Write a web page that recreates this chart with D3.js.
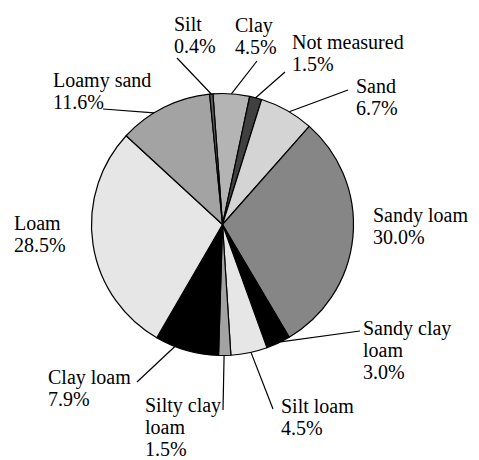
<!DOCTYPE html>
<meta charset="utf-8">
<style>
  body { margin: 0; background: #fff; }
  text { font-family: "Liberation Serif", "Times New Roman", serif; font-size: 20px; fill: #000; }
</style>
<body>
<script src="https://cdn.jsdelivr.net/npm/d3@7"></script>
<script>

// soil texture classes, clockwise from the top
var categories = ["Clay", "Not measured", "Sand", "Sandy loam", "Sandy clay loam", "Silt loam",
                  "Silty clay loam", "Clay loam", "Loam", "Loamy sand", "Silt"];
var values = [4.5, 1.5, 6.7, 30.0, 3.0, 4.5, 1.5, 7.9, 28.5, 11.6, 0.4];
var labelLines = [["Clay"], ["Not measured"], ["Sand"], ["Sandy loam"], ["Sandy clay", "loam"], ["Silt loam"],
                  ["Silty clay", "loam"], ["Clay loam"], ["Loam"], ["Loamy sand"], ["Silt"]];
var fills = ["#b4b4b4", "#404040", "#d4d4d4", "#868686", "#000000", "#e6e6e6",
             "#a3a3a3", "#000000", "#e6e6e6", "#a3a3a3", "#5e5e5e"];

// label placement: text x / first baseline, leader end (null = no leader), where on the slice the leader hits
var labelPos = [
  {x: 235, y: 32,  lx: 257, ly: 61,  at: 0.5},
  {x: 292, y: 49,  lx: 285, ly: 72,  at: 0.5},
  {x: 356, y: 93,  lx: 348, ly: 90,  at: 0.55},
  {x: 373, y: 222, lx: null},
  {x: 363, y: 335, lx: 360, ly: 331, at: 0.4},
  {x: 281, y: 413, lx: 273, ly: 409, at: 0.45},
  {x: 145, y: 412, lx: 223, ly: 410, at: 0.55},
  {x: 48,  y: 384, lx: 137, ly: 382, at: 0.69},
  {x: 14,  y: 230, lx: null},
  {x: 53,  y: 87,  lx: 103, ly: 109, at: 0.38},
  {x: 174, y: 31,  lx: 177, ly: 58,  at: 0.5}
];

var width = 479,
    height = 460,
    cx = 222.5,
    cy = 224.5,
    radius = 131,
    lineStep = 22;

var start = -4.2 * Math.PI / 180;

var svg = d3.select("body").append("svg")
    .attr("width", width)
    .attr("height", height);

var data = categories.map(function(c, i) { return {name: c, value: values[i], i: i}; });

var pie = d3.pie()
    .sort(null)
    .value(function(d) { return d.value; })
    .startAngle(start)
    .endAngle(start + 2 * Math.PI);

var arc = d3.arc().innerRadius(0).outerRadius(radius);

var arcs = pie(data);

var g = svg.append("g").attr("transform", "translate(" + cx + "," + cy + ")");

g.selectAll("path")
  .data(arcs)
  .enter().append("path")
    .attr("d", arc)
    .attr("fill", function(d) { return fills[d.data.i]; })
    .attr("stroke", "#000")
    .attr("stroke-width", 1.2)
    .attr("stroke-linejoin", "round");

// leader lines
function edgePoint(d) {
  var p = labelPos[d.data.i];
  var a = d.startAngle + (d.endAngle - d.startAngle) * p.at;
  return [cx + radius * Math.sin(a), cy - radius * Math.cos(a)];
}

svg.append("g")
  .selectAll("line")
  .data(arcs.filter(function(d) { return labelPos[d.data.i].lx != null; }))
  .enter().append("line")
    .attr("x1", function(d) { return edgePoint(d)[0]; })
    .attr("y1", function(d) { return edgePoint(d)[1]; })
    .attr("x2", function(d) { return labelPos[d.data.i].lx; })
    .attr("y2", function(d) { return labelPos[d.data.i].ly; })
    .attr("stroke", "#000")
    .attr("stroke-width", 1.2);

// labels
var fmt = d3.format(".1f");
var labels = svg.append("g")
  .selectAll("text")
  .data(data)
  .enter().append("text")
    .attr("x", function(d) { return labelPos[d.i].x; })
    .attr("y", function(d) { return labelPos[d.i].y; });

labels.each(function(d) {
  var t = d3.select(this);
  var lines = labelLines[d.i].concat([fmt(d.value) + "%"]);
  lines.forEach(function(s, k) {
    t.append("tspan")
      .attr("x", labelPos[d.i].x)
      .attr("y", labelPos[d.i].y + k * lineStep)
      .text(s);
  });
});

</script>
</body>
